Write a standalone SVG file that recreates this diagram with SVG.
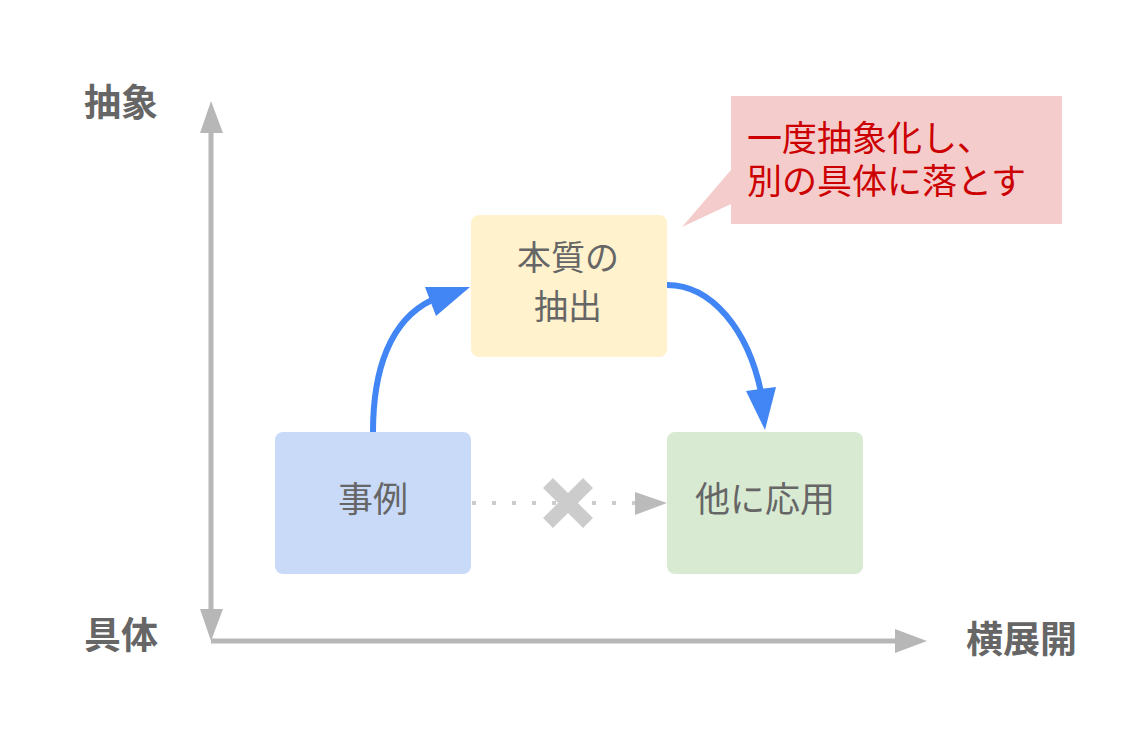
<svg xmlns="http://www.w3.org/2000/svg" width="1136" height="730" viewBox="0 0 1136 730">
<style>
.lbl{font-family:"Noto Sans CJK JP","Noto Sans",sans-serif;font-weight:bold;font-size:37px;fill:#666666}
.nt{font-family:"Noto Sans CJK JP","Noto Sans",sans-serif;font-size:34px;fill:#666666;text-anchor:middle}
.ct{font-family:"Noto Sans CJK JP","Noto Sans",sans-serif;font-size:35px;fill:#cc0000}
.axis{stroke:#b7b7b7;stroke-width:5;fill:none}
.blue{stroke:#4285f4;stroke-width:6;fill:none}
</style>
<rect width="1136" height="730" fill="#ffffff"/>
<g id="axes">
<line class="axis" x1="211" y1="130" x2="211" y2="612"/>
<line class="axis" x1="211" y1="641" x2="897" y2="641"/>
<polygon points="211,101 223,133 200,133" fill="#b7b7b7"/>
<polygon points="211,641 223,609 200,609" fill="#b7b7b7"/>
<polygon points="927,641 895,629 895,653" fill="#b7b7b7"/>
</g>
<g id="axis-labels">
<text class="lbl" x="84" y="116">抽象</text>
<text class="lbl" x="84" y="649">具体</text>
<text class="lbl" x="966" y="653">横展開</text>
</g>
<g id="node-jirei">
<rect x="275" y="432" width="196" height="142" rx="8" fill="#c9daf8"/>
<text class="nt" x="373" y="512" style="font-size:35px">事例</text>
</g>
<g id="node-honshitsu">
<rect x="471" y="215" width="196" height="142" rx="8" fill="#fff2cc"/>
<text class="nt" x="568" y="270">本質の</text>
<text class="nt" x="568" y="319">抽出</text>
</g>
<g id="node-ouyou">
<rect x="667" y="432" width="196" height="142" rx="8" fill="#d9ead3"/>
<text class="nt" x="765" y="512" style="font-size:35px">他に応用</text>
</g>
<g id="callout">
<polygon points="731,170 731,204 682,227" fill="#f4cccc"/>
<rect x="731" y="96" width="331" height="128" fill="#f4cccc"/>
<text class="ct" x="747" y="151">一度抽象化し、</text>
<text class="ct" x="747" y="194">別の具体に落とす</text>
</g>
<g id="connectors">
<path class="blue" d="M373,432 C373,370 390,320 432,300"/>
<polygon points="470,287 425,287 436,316" fill="#4285f4"/>
<path class="blue" d="M667,285 C712,285 748,330 761,392"/>
<polygon points="765,430 746,391 776,387" fill="#4285f4"/>
<line x1="472" y1="503" x2="636" y2="503" stroke="#cccccc" stroke-width="4" stroke-dasharray="4 16"/>
<polygon points="667,503 635,492 635,515" fill="#bbbbbb"/>
<g stroke="#cccccc" stroke-width="14">
<line x1="548" y1="483" x2="588" y2="523"/>
<line x1="588" y1="483" x2="548" y2="523"/>
</g>
</g>
</svg>
